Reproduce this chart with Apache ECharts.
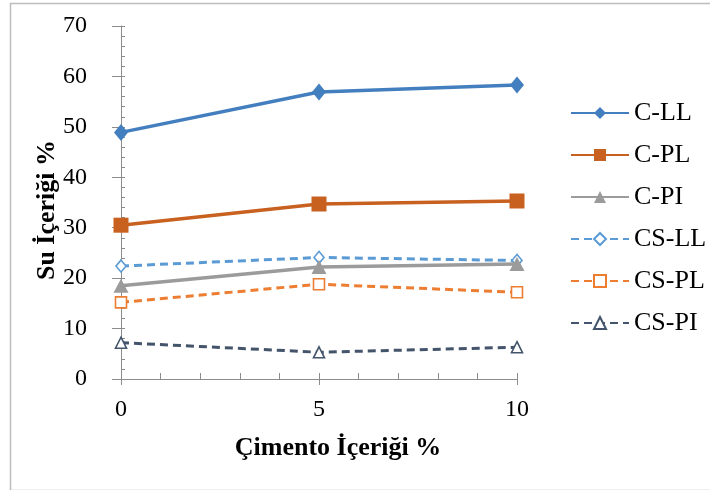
<!DOCTYPE html>
<html><head><meta charset="utf-8">
<script src="https://cdn.jsdelivr.net/npm/echarts@6/dist/echarts.min.js"></script>
<style>html,body{margin:0;padding:0;background:#fff}#c{width:710px;height:490px}</style>
</head><body><div id="c"></div>
<script>
var xValues = [0, 5, 10];
var seriesNames = ['C-LL', 'C-PL', 'C-PI', 'CS-LL', 'CS-PL', 'CS-PI'];
var cLL = [48.9, 56.9, 58.3];
var cPL = [30.5, 34.7, 35.3];
var cPI = [18.5, 22.2, 22.8];
var csLL = [22.4, 24.1, 23.5];
var csPL = [15.2, 18.8, 17.2];
var csPI = [7.2, 5.3, 6.3];
var xTitle = 'Çimento İçeriği %';
var yTitle = 'Su İçeriği %';

var font = '"Liberation Serif", "Times New Roman", serif';
function pts(arr){ return xValues.map(function(x,i){ return [x, arr[i]]; }); }
function mk(name, data, color, symbol, size, dashed){
  return {
    name: name, type: 'line', data: pts(data), xAxisIndex: 0, yAxisIndex: 0,
    symbol: symbol, symbolSize: size,
    lineStyle: { color: color, width: dashed ? 3 : 3.5, type: dashed ? [8, 5] : 'solid' },
    itemStyle: dashed ? { color: '#fff', borderColor: color, borderWidth: 1.6 } : { color: color, borderWidth: 0 },
    emphasis: { disabled: true },
    z: dashed ? 3 : 4
  };
}
var chart = echarts.init(document.getElementById('c'));
chart.setOption({
  animation: false,
  backgroundColor: '#fff',
  graphic: [
    { type: 'rect', left: 8, top: 1, shape: { width: 720, height: 487 }, style: { fill: 'none', stroke: '#bdbdbd', lineWidth: 1.5 }, z: -1 },
    { type: 'text', x: 338, y: 448, style: { text: xTitle, align: 'center', verticalAlign: 'middle', font: 'bold 26px ' + font, fill: '#000' } },
    { type: 'text', x: 47, y: 210, rotation: Math.PI / 2, style: { text: yTitle, align: 'center', verticalAlign: 'middle', font: 'bold 26px ' + font, fill: '#000' } }
  ],
  grid: { left: 121, right: 193, top: 26, bottom: 111 },
  legend: {
    orient: 'vertical', left: 570, top: 100, padding: 0, itemWidth: 58, itemHeight: 15, itemGap: 16,
    textStyle: { fontFamily: font, fontSize: 26, color: '#000' },
    data: seriesNames
  },
  xAxis: [{
    type: 'value', min: 0, max: 10, interval: 5, position: 'bottom',
    axisLine: { lineStyle: { color: '#8c8c8c', width: 1 } },
    axisTick: { length: 6, lineStyle: { color: '#8c8c8c' } },
    axisLabel: { fontFamily: font, fontSize: 24, color: '#000', margin: 19 },
    splitLine: { show: false }
  }, {
    type: 'value', min: 0, max: 10, interval: 1, position: 'bottom', offset: 0,
    axisLine: { show: false },
    axisTick: { inside: true, length: 6, lineStyle: { color: '#8c8c8c' } },
    axisLabel: { show: false }, splitLine: { show: false }
  }],
  yAxis: [{
    type: 'value', min: 0, max: 70, interval: 10, position: 'left',
    axisLine: { show: true, lineStyle: { color: '#8c8c8c', width: 1 } },
    axisTick: { show: true, length: 9, lineStyle: { color: '#8c8c8c' } },
    axisLabel: { fontFamily: font, fontSize: 24, color: '#000', margin: 34 },
    splitLine: { show: false }
  }, {
    type: 'value', min: 0, max: 70, interval: 2, position: 'left', offset: 0,
    axisLine: { show: false },
    axisTick: { show: true, inside: true, length: 4, lineStyle: { color: '#8c8c8c' } },
    axisLabel: { show: false }, splitLine: { show: false }
  }],
  series: [
    mk('C-LL', cLL, '#437fbf', 'diamond', [14, 17], false),
    mk('C-PL', cPL, '#c8601f', 'rect', 15, false),
    mk('C-PI', cPI, '#9b9b9b', 'triangle', [15, 14], false),
    mk('CS-LL', csLL, '#5b9bd5', 'diamond', [10, 12], true),
    mk('CS-PL', csPL, '#ed7d31', 'rect', 11, true),
    mk('CS-PI', csPI, '#44546a', 'triangle', 11, true)
  ]
});
</script></body></html>
